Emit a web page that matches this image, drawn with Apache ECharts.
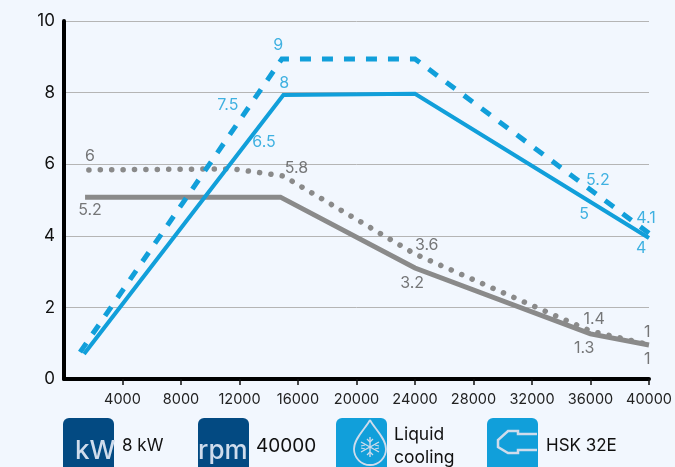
<!DOCTYPE html>
<html>
<head>
<meta charset="utf-8">
<script src="https://cdn.jsdelivr.net/npm/echarts@6/dist/echarts.min.js"></script>
<style>
html, body { margin: 0; padding: 0; background: #f2f7fe; overflow: hidden; }
#chart { width: 675px; height: 467px; }
</style>
</head>
<body>
<div id="chart"></div>
<script>
var xTicks = [4000, 8000, 12000, 16000, 20000, 24000, 28000, 32000, 36000, 40000];

// [rpm, kW]
var dashedBlue = [[1100, 0.75], [14900, 8.94], [24000, 8.94], [40000, 4.07]];
var solidBlue = [[1370, 0.7], [15000, 7.93], [24000, 7.97], [40000, 3.94]];
var dottedGray = [[1700, 5.84], [11560, 5.87], [15000, 5.67], [24000, 3.49], [36000, 1.34], [40000, 0.96]];
var solidGray = [[1440, 5.08], [14800, 5.08], [24000, 3.1], [36000, 1.26], [40000, 0.95]];

// [rpm, kW, text] printed values, placed next to the lines
var blueLabels = [
  [14640, 9.33, '9'], [15050, 8.27, '8'], [11200, 7.65, '7.5'], [13680, 6.62, '6.5'],
  [36500, 5.56, '5.2'], [35570, 4.61, '5'], [39800, 4.5, '4.1'], [39470, 3.66, '4']
];
var grayLabels = [
  [1780, 6.23, '6'], [1780, 4.72, '5.2'], [15900, 5.89, '5.8'], [24800, 3.74, '3.6'],
  [23800, 2.68, '3.2'], [36250, 1.68, '1.4'], [35570, 0.87, '1.3'], [39880, 1.31, '1'], [39880, 0.56, '1']
];

var font = 'Inter';
var blue = '#119fda';
var navy = '#034a82';
var gray = '#8a8a8a';
var labelGray = '#555555';
var pale = '#cfdcec';

function labelSeries(rows, color) {
  return {
    type: 'scatter',
    symbolSize: 0,
    silent: true,
    data: rows,
    label: {
      show: true,
      position: 'inside',
      formatter: function (p) { return p.data[2]; },
      color: color,
      fontFamily: font,
      fontSize: 16
    }
  };
}

function lineSeries(rows, color, dash, width, cap) {
  return {
    type: 'line',
    data: rows,
    symbol: 'none',
    lineStyle: { color: color, width: width, type: dash, cap: cap, join: 'miter' }
  };
}

function tile(x, color) {
  return { type: 'rect', shape: { x: x, y: 418, width: 51, height: 60, r: 6 }, style: { fill: color } };
}

function caption(x, y, text, size) {
  return {
    type: 'text', x: x, y: y,
    style: { text: text, fill: '#111', font: size + 'px ' + font, verticalAlign: 'middle', lineHeight: 23 }
  };
}

function iconLine(x1, y1, x2, y2, width) {
  return {
    type: 'line',
    shape: { x1: x1, y1: y1, x2: x2, y2: y2 },
    style: { stroke: pale, lineWidth: width }
  };
}

function bezier(x1, y1, cx1, cy1, cx2, cy2, x2, y2) {
  return {
    type: 'bezierCurve',
    shape: { x1: x1, y1: y1, cpx1: cx1, cpy1: cy1, cpx2: cx2, cpy2: cy2, x2: x2, y2: y2 },
    style: { stroke: pale, lineWidth: 1.8, fill: 'none' }
  };
}

var chart = echarts.init(document.getElementById('chart'));
chart.setOption({
  animation: false,
  backgroundColor: '#f2f7fe',
  grid: { left: 64, right: 26, top: 21, height: 358 },
  xAxis: {
    type: 'value',
    min: 0,
    max: 40000,
    interval: 4000,
    axisLine: { lineStyle: { color: '#000', width: 4 } },
    axisTick: { show: true, length: 6, lineStyle: { color: '#111', width: 1.5 } },
    splitLine: { show: false },
    axisLabel: {
      color: '#222', fontFamily: font, fontSize: 14.5, margin: 13,
      showMinLabel: false,
      formatter: function (v) { return xTicks.indexOf(v) >= 0 ? String(v) : ''; }
    }
  },
  yAxis: {
    type: 'value',
    min: 0,
    max: 10,
    interval: 2,
    axisLine: { show: true, lineStyle: { color: '#000', width: 4 } },
    axisTick: { show: false },
    splitLine: { lineStyle: { color: '#b5b5b5', width: 1 } },
    axisLabel: { color: '#111', fontFamily: font, fontSize: 17, margin: 9 }
  },
  series: [
    lineSeries(dottedGray, gray, [0.1, 11.3], 5.5, 'round'),
    lineSeries(solidGray, gray, 'solid', 5, 'butt'),
    lineSeries(dashedBlue, blue, [11, 11], 5, 'butt'),
    lineSeries(solidBlue, blue, 'solid', 4, 'butt'),
    labelSeries(blueLabels, blue),
    labelSeries(grayLabels, labelGray)
  ],
  graphic: [
    tile(63, navy), tile(198, navy), tile(336, blue), tile(487, blue),
    { type: 'text', x: 75, y: 438, style: { text: 'kW', fill: pale, font: '500 26px ' + font } },
    { type: 'text', x: 198, y: 438, style: { text: 'rpm', fill: pale, font: '500 26px ' + font } },
    caption(122, 446, '8 kW', 17),
    caption(256, 446, '40000', 19),
    caption(394, 446, 'Liquid\ncooling', 17.5),
    caption(546, 446, 'HSK 32E', 17),
    // drop icon
    bezier(370, 420, 366, 428, 354, 438, 354, 449),
    bezier(370, 420, 374, 428, 386, 438, 386, 449),
    { type: 'arc', shape: { cx: 370, cy: 449, r: 16, startAngle: 0, endAngle: Math.PI }, style: { stroke: pale, lineWidth: 1.8, fill: 'none' } },
    // snowflake
    iconLine(370, 437, 370, 457, 1.4),
    iconLine(361, 442, 379, 452, 1.4),
    iconLine(361, 452, 379, 442, 1.4),
    iconLine(367, 439, 370, 442, 1.2), iconLine(373, 439, 370, 442, 1.2),
    iconLine(367, 455, 370, 452, 1.2), iconLine(373, 455, 370, 452, 1.2),
    iconLine(361, 446, 365, 445, 1.2), iconLine(379, 446, 375, 445, 1.2),
    iconLine(361, 448, 365, 449, 1.2), iconLine(379, 448, 375, 449, 1.2),
    // tool holder icon
    {
      type: 'polyline',
      shape: { points: [[537, 434], [518, 434], [518, 431], [508, 431], [498, 440], [498, 447], [508, 453], [518, 453], [518, 450], [537, 450]] },
      style: { stroke: pale, lineWidth: 2.5, fill: 'none' }
    }
  ]
});
</script>
</body>
</html>
